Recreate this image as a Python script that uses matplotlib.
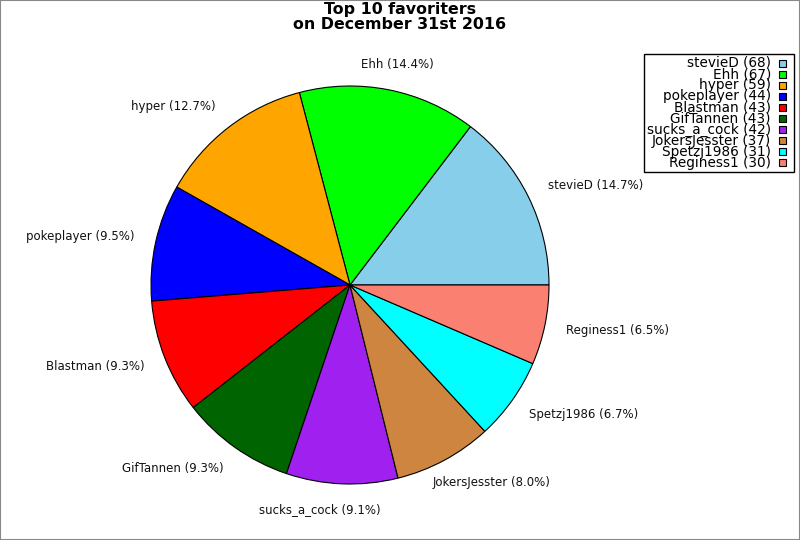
import matplotlib
matplotlib.use("Agg")
import matplotlib.pyplot as plt
from matplotlib.patches import Rectangle
from matplotlib.transforms import offset_copy
import numpy as np

names = ["stevieD", "Ehh", "hyper", "pokeplayer", "Blastman", "GifTannen",
         "sucks_a_cock", "JokersJesster", "Spetzj1986", "Reginess1"]
values = [68, 67, 59, 44, 43, 43, 42, 37, 31, 30]
colors = ["#87ceeb", "#00ff00", "#ffa500", "#0000ff", "#ff0000", "#006400",
          "#a020f0", "#cd853f", "#00ffff", "#fa8072"]
title = "Top 10 favoriters\non December 31st 2016"

W, H = 800, 540
fig = plt.figure(figsize=(W / 100, H / 100), dpi=100)
fig.patch.set_facecolor("white")
fig.patches.append(Rectangle((0, 0), 1, 1, transform=fig.transFigure,
                             fill=False, edgecolor="#888888", linewidth=1.5))

cx, cy, r = 350, 285, 199
ax = fig.add_axes([(cx - r) / W, (H - cy - r) / H, 2 * r / W, 2 * r / H])
wedges, _ = ax.pie(values, colors=colors, startangle=0, counterclock=True,
                   wedgeprops=dict(edgecolor="black", linewidth=0.8))
ax.set_xlim(-1, 1)
ax.set_ylim(-1, 1)
ax.set_axis_off()

total = sum(values)
fig.canvas.draw()
renderer = fig.canvas.get_renderer()
cum = 0
for name, v in zip(names, values):
    mid = np.deg2rad((cum + v / 2) / total * 360)
    cum += v
    pct = 100 * v / total
    c = np.cos(mid)
    t = ax.text(1.13 * c, 1.13 * np.sin(mid), f"{name} ({pct:.1f}%)",
                ha="center", va="center", fontsize=8.5, color="#111111")
    w = t.get_window_extent(renderer).width
    g = 0.92 * np.clip(2 * c - 0.3, -1, 1)
    t.set_transform(offset_copy(ax.transData, fig=fig, x=g * w / 2, y=0, units="dots"))

fig.text(0.5, 1 - 17 / H, title, ha="center", va="center", fontsize=11.4,
         fontweight="bold", linespacing=0.95)

# legend
lx0, lx1, ly0, ly1 = 644, 794, 54, 172
fig.patches.append(Rectangle((lx0 / W, 1 - ly1 / H), (lx1 - lx0) / W, (ly1 - ly0) / H,
                             transform=fig.transFigure, fill=False,
                             edgecolor="black", linewidth=1))
for i, (name, v, c) in enumerate(zip(names, values, colors)):
    ypx = 63 + i * 11.1
    fig.text(771 / W, 1 - ypx / H, f"{name} ({v})", ha="right", va="center",
             fontsize=9.8, color="black")
    fig.patches.append(Rectangle((779 / W, 1 - (ypx + 3.5) / H), 7 / W, 7 / H,
                                 transform=fig.transFigure, facecolor=c,
                                 edgecolor="black", linewidth=0.8))

fig.savefig("out.png", dpi=100)
